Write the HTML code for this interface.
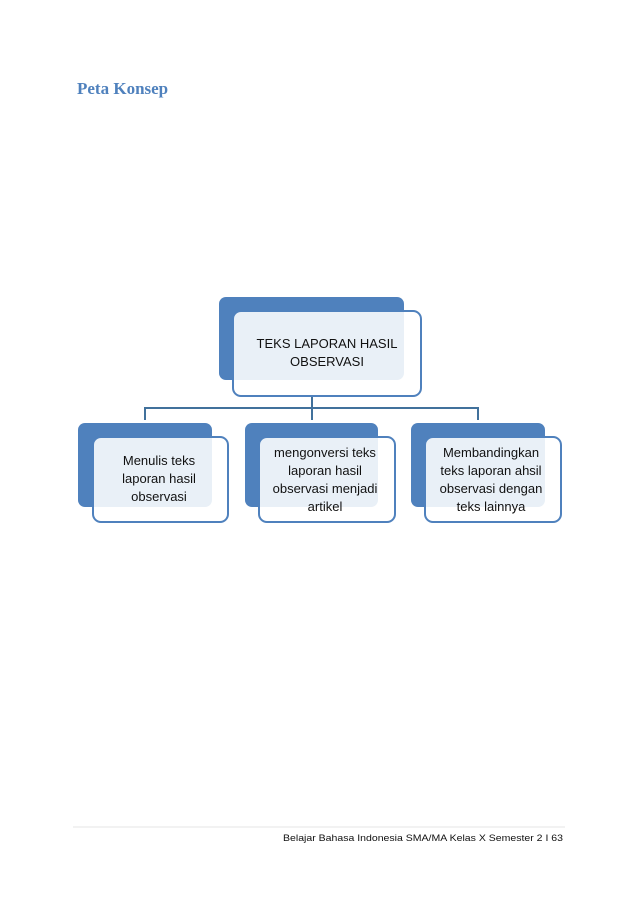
<!DOCTYPE html>
<html><head><meta charset="utf-8"><style>
html,body{margin:0;padding:0;background:#fff;width:638px;height:903px;overflow:hidden}
</style></head><body>
<svg width="638" height="903" xmlns="http://www.w3.org/2000/svg" style="position:absolute;left:0;top:0">
<text x="77" y="94" font-family="Liberation Serif, serif" font-weight="bold" font-size="17" fill="#4f81bd">Peta Konsep</text>
<g stroke="#41719c" stroke-width="2" fill="none">
<path d="M312 396 V408 M145 420 V408 H478 V420 M312 408 V420"/>
</g>
<g fill="#4f81bd">
<rect x="219" y="297" width="185" height="83" rx="7"/>
<rect x="78" y="423" width="134" height="84" rx="7"/>
<rect x="245" y="423" width="133" height="84" rx="7"/>
<rect x="411" y="423" width="134" height="84" rx="7"/>
</g>
<g fill="rgba(255,255,255,0.88)" stroke="#4f81bd" stroke-width="2">
<rect x="233" y="311" width="188" height="85" rx="8"/>
<rect x="93" y="437" width="135" height="85" rx="8"/>
<rect x="259" y="437" width="136" height="85" rx="8"/>
<rect x="425" y="437" width="136" height="85" rx="8"/>
</g>
<g font-family="Liberation Sans, sans-serif" font-size="13" fill="#111" text-anchor="middle">
<text x="327" y="348">TEKS LAPORAN HASIL</text>
<text x="327" y="366">OBSERVASI</text>
<text x="159" y="465">Menulis teks</text>
<text x="159" y="483">laporan hasil</text>
<text x="159" y="501">observasi</text>
<text x="325" y="457">mengonversi teks</text>
<text x="325" y="475">laporan hasil</text>
<text x="325" y="493">observasi menjadi</text>
<text x="325" y="511">artikel</text>
<text x="491" y="457">Membandingkan</text>
<text x="491" y="475">teks laporan ahsil</text>
<text x="491" y="493">observasi dengan</text>
<text x="491" y="511">teks lainnya</text>
</g>
<line x1="73" y1="827" x2="565" y2="827" stroke="#e4e4e4" stroke-width="1"/>
<text x="563" y="841" text-anchor="end" font-family="Liberation Sans, sans-serif" font-size="9.5" fill="#111" textLength="280" lengthAdjust="spacingAndGlyphs">Belajar Bahasa Indonesia SMA/MA  Kelas X Semester 2 I 63</text>
</svg>
</body></html>
